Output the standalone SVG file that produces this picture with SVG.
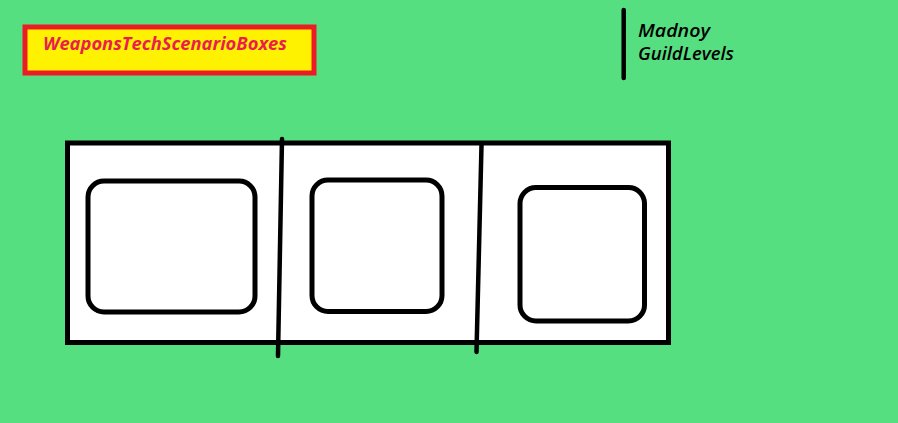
<svg xmlns="http://www.w3.org/2000/svg" width="898" height="423" viewBox="0 0 898 423">
<style>
.k{fill:none;stroke:#000;stroke-linecap:round}
.t{font-family:"Open Sans","Noto Sans","Liberation Sans",sans-serif;font-style:italic}
</style>
<rect x="0" y="0" width="898" height="423" fill="#55DF80"/>
<g id="title">
<rect x="25" y="27" width="289" height="46" fill="#FFF200" stroke="#ED1C24" stroke-width="5"/>
<text class="t" x="43" y="50" font-size="17" font-weight="bold" fill="#EA1E4E" textLength="244" lengthAdjust="spacingAndGlyphs">WeaponsTechScenarioBoxes</text>
</g>
<g id="legend">
<line class="k" x1="623.7" y1="10" x2="623.7" y2="78" stroke-width="4.5"/>
<text class="t" x="638" y="36.5" font-size="18.5" font-weight="600" fill="#000" textLength="72" lengthAdjust="spacingAndGlyphs">Madnoy</text>
<text class="t" x="638" y="60" font-size="18.5" font-weight="600" fill="#000" textLength="96" lengthAdjust="spacingAndGlyphs">GuildLevels</text>
</g>
<g id="container">
<rect x="67.5" y="143" width="601" height="199.5" fill="#fff" stroke="#000" stroke-width="5"/>
</g>
<g id="box1"><rect class="k" x="88" y="181" width="167" height="131" rx="16" stroke-width="5"/></g>
<g id="box2"><rect class="k" x="312" y="180" width="130" height="131.5" rx="16" stroke-width="5"/></g>
<g id="box3"><rect class="k" x="520" y="187.5" width="124.5" height="133.5" rx="16" stroke-width="5"/></g>
<g id="connectors">
<line class="k" x1="282" y1="139" x2="278" y2="356" stroke-width="4.5"/>
<line class="k" x1="481.5" y1="145" x2="476.5" y2="352" stroke-width="4.5"/>
</g>
</svg>
